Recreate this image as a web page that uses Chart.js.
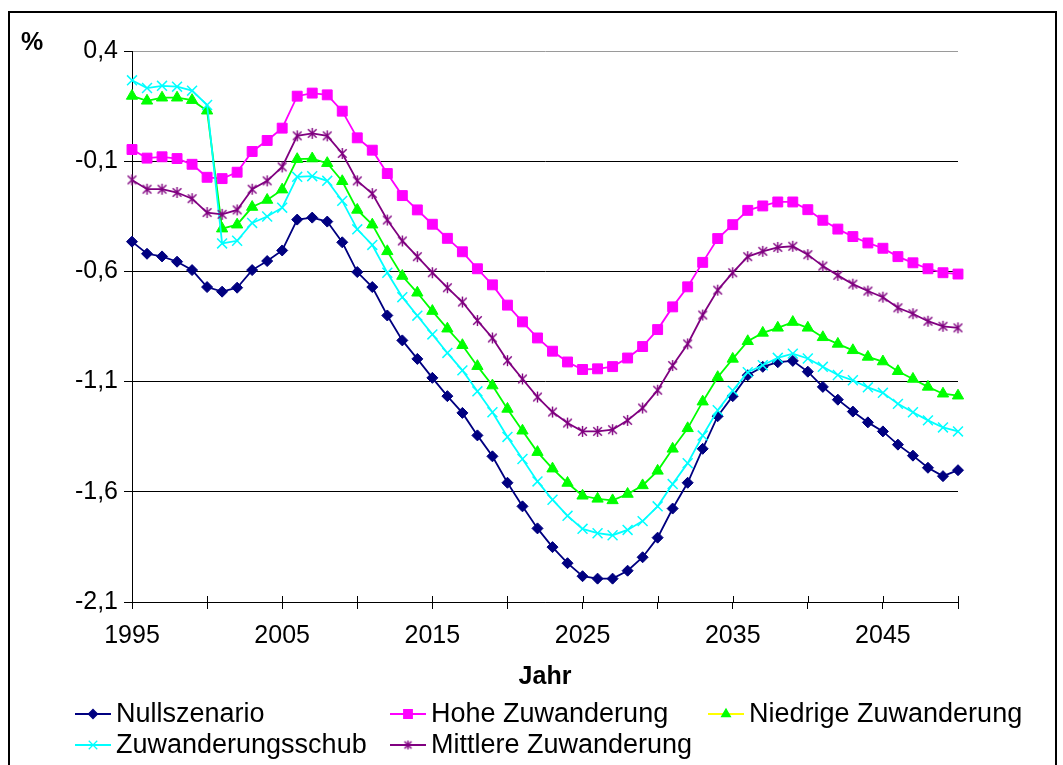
<!DOCTYPE html>
<html>
<head>
<meta charset="utf-8">
<script src="https://cdn.jsdelivr.net/npm/chart.js@4.4.0/dist/chart.umd.min.js"></script>
<style>
  html, body { margin: 0; padding: 0; background: #fff; }
  #wrap { width: 1063px; height: 765px; }
</style>
</head>
<body>
<div id="wrap"><canvas id="chart" width="1063" height="765"></canvas></div>
<script>
// Data
const years = [1995, 1996, 1997, 1998, 1999, 2000, 2001, 2002, 2003, 2004,
  2005, 2006, 2007, 2008, 2009, 2010, 2011, 2012, 2013, 2014,
  2015, 2016, 2017, 2018, 2019, 2020, 2021, 2022, 2023, 2024,
  2025, 2026, 2027, 2028, 2029, 2030, 2031, 2032, 2033, 2034,
  2035, 2036, 2037, 2038, 2039, 2040, 2041, 2042, 2043, 2044,
  2045, 2046, 2047, 2048, 2049, 2050];

const nullszenario = [-0.465, -0.52, -0.532, -0.556, -0.594, -0.671, -0.692, -0.674, -0.594, -0.553,
  -0.505, -0.365, -0.356, -0.374, -0.468, -0.603, -0.671, -0.80, -0.913, -0.997,
  -1.083, -1.166, -1.242, -1.344, -1.439, -1.559, -1.666, -1.766, -1.851, -1.924,
  -1.983, -1.994, -1.994, -1.958, -1.897, -1.808, -1.676, -1.559, -1.405, -1.257,
  -1.166, -1.071, -1.033, -1.012, -1.006, -1.055, -1.124, -1.182, -1.236, -1.285,
  -1.326, -1.386, -1.436, -1.491, -1.529, -1.502];

const hoheZuwanderung = [-0.047, -0.086, -0.080, -0.088, -0.114, -0.173, -0.179, -0.150, -0.056, -0.006,
  0.05, 0.195, 0.209, 0.201, 0.127, 0.006, -0.05, -0.156, -0.256, -0.321,
  -0.386, -0.45, -0.511, -0.588, -0.661, -0.753, -0.829, -0.902, -0.962, -1.011,
  -1.045, -1.042, -1.032, -0.993, -0.941, -0.864, -0.761, -0.67, -0.559, -0.451,
  -0.388, -0.323, -0.303, -0.285, -0.285, -0.32, -0.368, -0.408, -0.442, -0.471,
  -0.495, -0.533, -0.561, -0.588, -0.606, -0.612];

const niedrigeZuwanderung = [0.196, 0.174, 0.188, 0.188, 0.177, 0.129, -0.406, -0.388, -0.308, -0.276,
  -0.229, -0.091, -0.088, -0.109, -0.191, -0.321, -0.388, -0.509, -0.621, -0.697,
  -0.78, -0.86, -0.935, -1.03, -1.118, -1.224, -1.323, -1.42, -1.495, -1.56,
  -1.618, -1.632, -1.639, -1.61, -1.571, -1.505, -1.405, -1.312, -1.191, -1.08,
  -0.997, -0.917, -0.879, -0.856, -0.83, -0.856, -0.899, -0.929, -0.958, -0.988,
  -1.009, -1.053, -1.088, -1.124, -1.155, -1.164];

const zuwanderungsschub = [0.267, 0.232, 0.242, 0.238, 0.220, 0.155, -0.473, -0.461, -0.38, -0.351,
  -0.311, -0.171, -0.168, -0.189, -0.28, -0.409, -0.48, -0.606, -0.717, -0.801,
  -0.886, -0.97, -1.049, -1.144, -1.239, -1.351, -1.451, -1.553, -1.636, -1.709,
  -1.768, -1.788, -1.797, -1.773, -1.733, -1.666, -1.565, -1.47, -1.345, -1.23,
  -1.141, -1.057, -1.026, -0.992, -0.973, -0.995, -1.033, -1.07, -1.094, -1.126,
  -1.151, -1.201, -1.239, -1.276, -1.308, -1.326];

const mittlereZuwanderung = [-0.185, -0.227, -0.227, -0.242, -0.27, -0.333, -0.341, -0.321, -0.227, -0.189,
  -0.126, 0.015, 0.026, 0.015, -0.065, -0.189, -0.247, -0.367, -0.462, -0.533,
  -0.606, -0.674, -0.739, -0.823, -0.902, -1.005, -1.088, -1.17, -1.238, -1.288,
  -1.326, -1.326, -1.318, -1.276, -1.22, -1.139, -1.027, -0.929, -0.798, -0.685,
  -0.606, -0.533, -0.509, -0.491, -0.486, -0.524, -0.576, -0.618, -0.658, -0.689,
  -0.717, -0.765, -0.792, -0.826, -0.849, -0.856];

const seriesNames = ['Nullszenario', 'Hohe Zuwanderung', 'Niedrige Zuwanderung', 'Zuwanderungsschub', 'Mittlere Zuwanderung'];
const yMin = -2.1;
const yMax = 0.4;
const yStep = 0.5;

const FONT = '"Liberation Sans", Arial, sans-serif';

// Excel style asterisk marker (X plus vertical bar)
function makeAsterisk(color, size) {
    const c = document.createElement('canvas');
    c.width = size;
    c.height = size;
    const g = c.getContext('2d');
    const m = size / 2, r = size / 2 - 1, d = r * 0.78;
    g.strokeStyle = color;
    g.lineWidth = 1.4;
    g.beginPath();
    g.moveTo(m - d, m - d); g.lineTo(m + d, m + d);
    g.moveTo(m + d, m - d); g.lineTo(m - d, m + d);
    g.moveTo(m, m - r); g.lineTo(m, m + r);
    g.stroke();
    return c;
}

const starBig = makeAsterisk('#800080', 13);
const starSmall = makeAsterisk('#800080', 11);

const datasets = [
    { label: seriesNames[0], data: nullszenario, borderColor: '#000080', backgroundColor: '#000080',
      pointStyle: 'rectRot', pointRadius: 5.5, order: 5 },
    { label: seriesNames[1], data: hoheZuwanderung, borderColor: '#FF00FF', backgroundColor: '#FF00FF',
      pointStyle: 'rect', pointRadius: 7, order: 4 },
    { label: seriesNames[2], data: niedrigeZuwanderung, borderColor: '#00FF00', backgroundColor: '#00FF00',
      pointStyle: 'triangle', pointRadius: 6.5, order: 3 },
    { label: seriesNames[3], data: zuwanderungsschub, borderColor: '#00FFFF', backgroundColor: '#00FFFF',
      pointStyle: 'crossRot', pointRadius: 7, pointBorderWidth: 1.5, order: 2 },
    { label: seriesNames[4], data: mittlereZuwanderung, borderColor: '#800080', backgroundColor: '#800080',
      pointStyle: starBig, order: 1 }
];
datasets.forEach(ds => {
    ds.borderWidth = 1.8;
    ds.tension = 0;
    ds.pointBorderColor = ds.borderColor;
    ds.pointBackgroundColor = ds.backgroundColor;
    if (ds.pointBorderWidth === undefined) ds.pointBorderWidth = 1;
});

// legend layout (Excel style, two rows)
const legendSlots = [
    { x: 75, y: 714, line: '#000080', style: 'rectRot', r: 4.5 },
    { x: 390, y: 714, line: '#FF00FF', style: 'rect', r: 6 },
    { x: 708, y: 714, line: '#FFFF00', style: 'triangle', r: 5 },
    { x: 75, y: 745, line: '#00FFFF', style: 'crossRot', r: 6 },
    { x: 390, y: 745, line: '#800080', style: starSmall, r: 5 }
];

const decoPlugin = {
    id: 'deco',
    beforeDraw(chart) {
        const ctx = chart.ctx;
        ctx.save();
        ctx.fillStyle = '#fff';
        ctx.fillRect(0, 0, chart.width, chart.height);
        ctx.restore();
    },
    afterDraw(chart) {
        const ctx = chart.ctx;
        const area = chart.chartArea;
        const xs = chart.scales.x;
        ctx.save();

        // tick marks crossing into the plot area
        ctx.strokeStyle = '#000';
        ctx.lineWidth = 1;
        ctx.beginPath();
        years.forEach((yr, i) => {
            if (yr % 5 !== 0) return;
            const px = Math.round(xs.getPixelForValue(i)) + 0.5;
            ctx.moveTo(px, area.bottom - 6);
            ctx.lineTo(px, area.bottom);
        });
        ctx.stroke();

        // outer frame
        ctx.lineWidth = 2;
        ctx.strokeRect(9, 12, 1047, 770);

        // unit label
        ctx.fillStyle = '#000';
        ctx.font = 'bold 25px ' + FONT;
        ctx.textBaseline = 'middle';
        ctx.textAlign = 'left';
        ctx.fillText('%', 21, 43);

        // legend
        ctx.font = '27px ' + FONT;
        legendSlots.forEach((slot, i) => {
            const ds = chart.data.datasets[i];
            ctx.strokeStyle = slot.line;
            ctx.lineWidth = 2;
            ctx.beginPath();
            ctx.moveTo(slot.x, slot.y);
            ctx.lineTo(slot.x + 36, slot.y);
            ctx.stroke();
            ctx.fillStyle = ds.backgroundColor;
            ctx.strokeStyle = ds.borderColor;
            ctx.lineWidth = 1.3;
            Chart.helpers.drawPoint(ctx, { pointStyle: slot.style, radius: slot.r, rotation: 0, borderWidth: 1.3 },
                slot.x + 18, slot.y);
            ctx.fillStyle = '#000';
            ctx.fillText(ds.label, slot.x + 41, slot.y + 1);
        });
        ctx.restore();
    }
};

const ctx = document.getElementById('chart').getContext('2d');
new Chart(ctx, {
    type: 'line',
    data: { labels: years, datasets: datasets },
    plugins: [decoPlugin],
    options: {
        responsive: false,
        animation: false,
        devicePixelRatio: 1,
        layout: { padding: { left: 0, right: 105, top: 51, bottom: 0 } },
        plugins: { legend: { display: false }, tooltip: { enabled: false } },
        scales: {
            x: {
                type: 'category',
                offset: false,
                afterFit: (scale) => { scale.height = 163; },
                border: { display: true, color: '#000', width: 1 },
                grid: {
                    drawOnChartArea: true,
                    color: (c) => (c.index === years.length - 1 ? '#9a9a9a' : 'rgba(0,0,0,0)'),
                    tickColor: '#000',
                    tickLength: 7,
                    lineWidth: 1
                },
                ticks: {
                    autoSkip: false,
                    maxRotation: 0,
                    padding: 12,
                    color: '#000',
                    font: { family: FONT, size: 25 },
                    callback: (val, i) => {
                        const yr = years[i];
                        if (yr % 5 !== 0) return null;
                        return (yr - 1995) % 10 === 0 ? String(yr) : '';
                    }
                },
                title: {
                    display: true,
                    text: 'Jahr',
                    color: '#000',
                    font: { family: FONT, size: 25, weight: 'bold' },
                    padding: { top: 0, bottom: 73 }
                }
            },
            y: {
                min: yMin,
                max: yMax,
                afterFit: (scale) => { scale.width = 132; },
                border: { display: true, color: '#000', width: 1 },
                grid: {
                    color: (c) => (Math.abs(c.tick.value - yMax) < 1e-6 ? '#9a9a9a' : '#000'),
                    tickColor: '#000',
                    tickLength: 8,
                    lineWidth: 1
                },
                ticks: {
                    stepSize: yStep,
                    padding: 6,
                    color: '#000',
                    font: { family: FONT, size: 25 },
                    callback: (v) => v.toFixed(1).replace('.', ',')
                }
            }
        }
    }
});
</script>
</body>
</html>
